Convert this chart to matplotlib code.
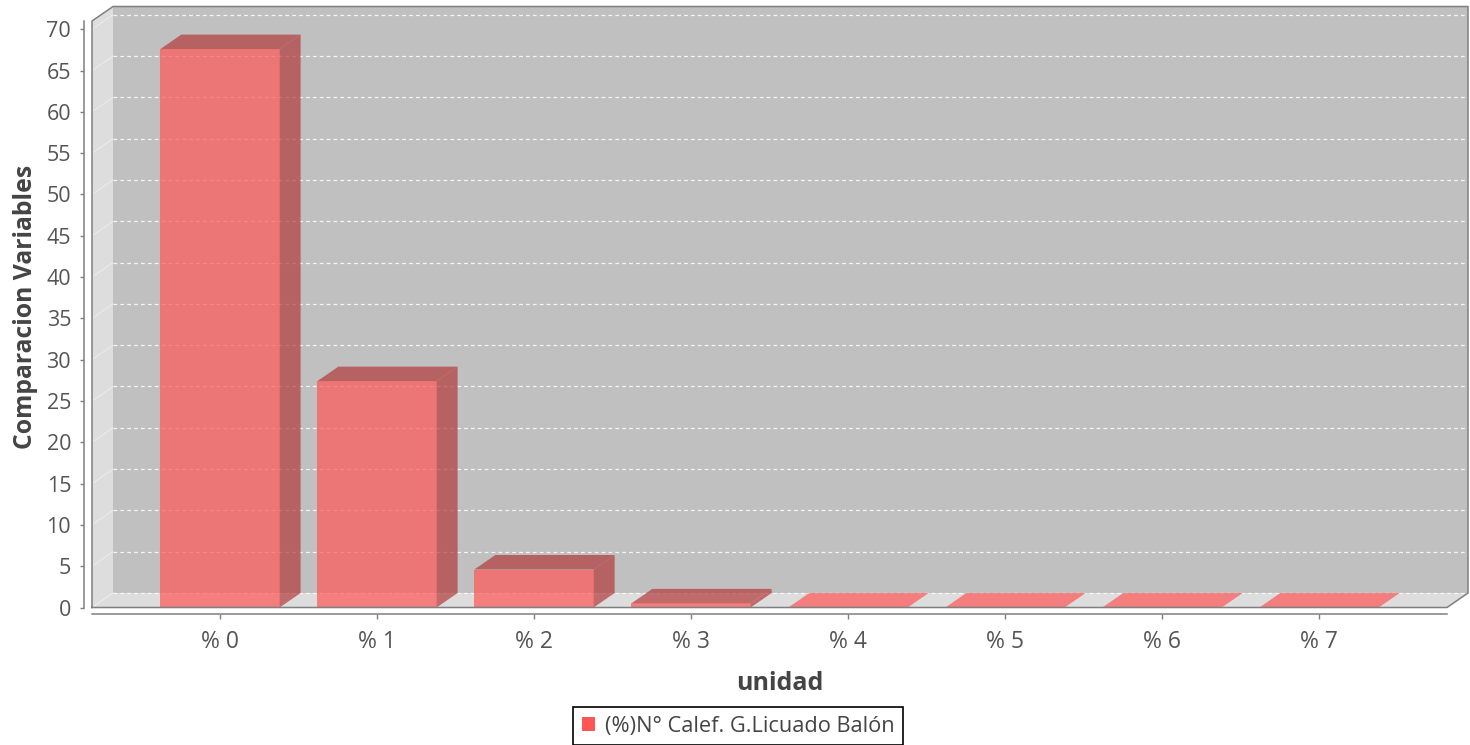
import numpy as np
import matplotlib
matplotlib.use('Agg')
import matplotlib.pyplot as plt
from matplotlib.patches import Polygon, Patch

# chart data
categories = ['% 0', '% 1', '% 2', '% 3', '% 4', '% 5', '% 6', '% 7']
values = [67.6, 27.4, 4.6, 0.5, 0.0, 0.0, 0.0, 0.0]
series_name = '(%)N° Calef. G.Licuado Balón'
y_ticks = list(range(0, 75, 5))
x_label = 'unidad'
y_label = 'Comparacion Variables'

plt.rcParams['font.family'] = ['Open Sans', 'DejaVu Sans']

# colours (jfreechart-ish defaults)
base_colour = np.array([255, 85, 85]) / 255.0
dark_colour = base_colour * 0.7
bar_alpha = 0.7
back_colour = '#c0c0c0'
wall_colour = '#dddddd'
line_colour = '#808080'
text_colour = '#555555'
label_colour = '#444444'

W, H = 1470, 745
fig = plt.figure(figsize=(W / 100, H / 100), dpi=100)

# front face of the plot box, in pixels
left, right, top, bottom = 92, 1447, 21, 607.5
ax = fig.add_axes([left / W, 1 - bottom / H, (right - left) / W, (bottom - top) / H])
ax.set_xlim(-0.815, len(categories) - 1 + 0.815)
ax.set_ylim(0, 71)
ax.patch.set_visible(False)

# depth of the 3d effect, converted from pixels to data units
depth_x, depth_y = 21, 14.5
x0, x1 = ax.get_xlim()
y0, y1 = ax.get_ylim()
ox = depth_x * (x1 - x0) / (right - left)
oy = depth_y * (y1 - y0) / (bottom - top)


def poly(pts, **kwargs):
    p = Polygon(pts, closed=True, clip_on=False, linewidth=0, **kwargs)
    ax.add_patch(p)
    return p


# back wall, left wall and floor
poly([(x0 + ox, y0 + oy), (x1 + ox, y0 + oy), (x1 + ox, y1 + oy), (x0 + ox, y1 + oy)],
     facecolor=back_colour, zorder=0)
poly([(x0, y0), (x0, y1), (x0 + ox, y1 + oy), (x0 + ox, y0 + oy)],
     facecolor=wall_colour, zorder=0)
poly([(x0, y0), (x0 + ox, y0 + oy), (x1 + ox, y0 + oy), (x1, y0)],
     facecolor=wall_colour, zorder=0)

# gridlines on the back wall, and their continuation on the side wall
for v in y_ticks:
    ax.plot([x0 + ox, x1 + ox], [v + oy, v + oy], color='white', linewidth=0.9,
            dashes=(3, 2.5), alpha=0.85, clip_on=False, zorder=1)
    ax.plot([x0, x0 + ox], [v, v + oy], color='white', linewidth=0.6,
            alpha=0.5, clip_on=False, zorder=1)

# 3d bars
bar_width = 0.76
for i, v in enumerate(values):
    l, r = i - bar_width / 2, i + bar_width / 2
    top_colour = dark_colour if v > 0 else base_colour
    if v > 0:
        poly([(r, 0), (r + ox, oy), (r + ox, v + oy), (r, v)],
             facecolor=dark_colour, alpha=bar_alpha, zorder=2)
    poly([(l, v), (l + ox, v + oy), (r + ox, v + oy), (r, v)],
         facecolor=top_colour, alpha=bar_alpha, zorder=2)
ax.bar(range(len(values)), values, bar_width, color=base_colour,
       alpha=bar_alpha, linewidth=0, zorder=2, clip_on=False)

# outline of the plot box
ax.plot([x0, x0, x0 + ox, x1 + ox, x1 + ox, x1, x0],
        [y0, y1, y1 + oy, y1 + oy, y0 + oy, y0, y0],
        color=line_colour, linewidth=1.1, clip_on=False, zorder=3)

# axes
for side in ('top', 'right'):
    ax.spines[side].set_visible(False)
ax.spines['left'].set_position(('outward', 6))
ax.spines['bottom'].set_position(('outward', 5))
for side in ('left', 'bottom'):
    ax.spines[side].set_color(line_colour)
    ax.spines[side].set_linewidth(1.1)

ax.set_yticks(y_ticks)
ax.set_yticklabels([str(t) for t in y_ticks])
ax.set_xticks(range(len(categories)))
ax.set_xticklabels(categories)
ax.tick_params(axis='y', length=3, width=1, color=line_colour, pad=6,
               labelsize=15.5, labelcolor=text_colour)
ax.tick_params(axis='x', length=3.5, width=1, color=line_colour, pad=8,
               labelsize=16.5, labelcolor=text_colour)

fig.text(779.5 / W, 1 - 683 / H, x_label, ha='center', va='center',
         fontsize=18, fontweight='bold', color=label_colour)
fig.text(26 / W, 1 - 307 / H, y_label, ha='center', va='center', rotation=90,
         fontsize=17.8, fontweight='bold', color=label_colour)

leg = fig.legend(handles=[Patch(facecolor=base_colour, edgecolor='none', label=series_name)],
                 loc='upper center', bbox_to_anchor=(738 / W, 1 - 707 / H),
                 frameon=True, fancybox=False, framealpha=1, edgecolor='black',
                 fontsize=15.7, handlelength=0.6, handleheight=0.6,
                 handletextpad=0.45, borderpad=0.4, borderaxespad=0)
leg.get_frame().set_linewidth(1.2)
for t in leg.get_texts():
    t.set_color(label_colour)

fig.savefig('out.png', dpi=100)
